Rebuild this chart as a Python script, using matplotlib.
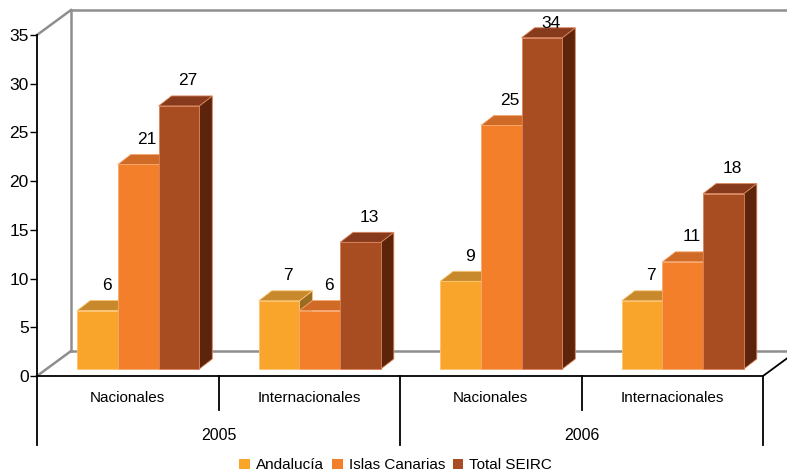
"""
Redraw the 3D-style clustered bar chart (Excel look) for SEIRC counts.

Oblique 3D is faked with flat polygons: each bar gets a front face,
a top face and a right side face, shifted by a fixed pixel depth.
"""

from __future__ import annotations

import matplotlib.pyplot as plt
from matplotlib.patches import Patch, Polygon

CATEGORIES = ["Nacionales", "Internacionales", "Nacionales", "Internacionales"]
YEARS = ["2005", "2006"]
SERIES = ["Andalucía", "Islas Canarias", "Total SEIRC"]

ANDALUCIA = [6, 7, 9, 7]
ISLAS_CANARIAS = [21, 6, 25, 11]
TOTAL_SEIRC = [27, 13, 34, 18]

Y_TICKS = [0, 5, 10, 15, 20, 25, 30, 35]

# front, top, side, edge
COLORS = [
    ("#F9A52B", "#C8892C", "#9C6B22", "#FBC36F"),
    ("#F37F2B", "#CF6B27", "#A35420", "#F7A870"),
    ("#A84D22", "#883B1C", "#5C250B", "#D9825A"),
]

FONT = "Liberation Sans"

W, H = 787, 472
AX_LEFT, AX_RIGHT = 37, 763
AX_TOP, AX_BOTTOM = 35, 376


def main() -> None:
    fig = plt.figure(figsize=(W / 100, H / 100), dpi=100)
    ax = fig.add_axes(
        [
            AX_LEFT / W,
            1 - AX_BOTTOM / H,
            (AX_RIGHT - AX_LEFT) / W,
            (AX_BOTTOM - AX_TOP) / H,
        ]
    )
    n_cat = len(CATEGORIES)
    y_max = Y_TICKS[-1]
    ax.set_xlim(0, n_cat)
    ax.set_ylim(0, y_max)

    # pixel -> data unit helpers
    px = n_cat / (AX_RIGHT - AX_LEFT)
    py = y_max / (AX_BOTTOM - AX_TOP)

    wall_dx, wall_dy = 34 * px, 25 * py
    bar_dx, bar_dy = 13 * px, 10 * py
    bar_off_x, bar_off_y = 10.5 * px, 7 * py
    bar_w = 40.7 * px

    for side in ["top", "right", "bottom", "left"]:
        ax.spines[side].set_visible(False)
    ax.set_xticks([])
    ax.set_yticks(Y_TICKS)
    ax.tick_params(axis="y", direction="out", length=5, width=1, pad=1)
    for label in ax.get_yticklabels():
        label.set_fontfamily(FONT)
        label.set_fontsize(12.5)

    gray = "#8E8E8E"
    line_kw = {"clip_on": False, "color": gray, "linewidth": 1.8, "zorder": 1}
    # back wall / floor
    ax.plot([0, wall_dx], [0, wall_dy], **line_kw)
    ax.plot([0, wall_dx], [y_max, y_max + wall_dy], **line_kw)
    ax.plot([wall_dx, wall_dx], [wall_dy, y_max + wall_dy], **line_kw)
    ax.plot([wall_dx, n_cat + wall_dx], [y_max + wall_dy] * 2, **line_kw)
    ax.plot([wall_dx, n_cat + wall_dx], [wall_dy] * 2, **line_kw)

    black_kw = {"clip_on": False, "color": "black", "linewidth": 1.3, "zorder": 2}
    ax.plot([n_cat, n_cat + wall_dx], [0, wall_dy], **black_kw)
    ax.plot([0, n_cat], [0, 0], **black_kw)

    # axis line and category separators, running down into the label area
    long_end = -(445 - AX_BOTTOM) * py
    short_end = -(410 - AX_BOTTOM) * py
    ax.plot([0, 0], [y_max, long_end], **black_kw)
    for i in range(1, n_cat + 1):
        end = long_end if i % 2 == 0 else short_end
        ax.plot([i, i], [0, end], **black_kw)

    for i, name in enumerate(CATEGORIES):
        ax.text(
            i + 0.5, -22 * py, name, ha="center", va="center",
            fontsize=11, family=FONT,
        )
    for k, year in enumerate(YEARS):
        ax.text(
            2 * k + 1, -60 * py, year, ha="center", va="center",
            fontsize=11.5, family=FONT,
        )

    values = [ANDALUCIA, ISLAS_CANARIAS, TOTAL_SEIRC]
    z = 3
    for i in range(n_cat):
        group_left = i + 0.5 - 1.5 * bar_w + bar_off_x
        for j, series in enumerate(values):
            v = series[i]
            front_c, top_c, side_c, edge_c = COLORS[j]
            x0 = group_left + j * bar_w
            x1 = x0 + bar_w
            y0 = bar_off_y
            y1 = y0 + v

            side = Polygon(
                [(x1, y0), (x1 + bar_dx, y0 + bar_dy),
                 (x1 + bar_dx, y1 + bar_dy), (x1, y1)],
                facecolor=side_c, edgecolor=edge_c, linewidth=0.6,
                clip_on=False, zorder=z,
            )
            top = Polygon(
                [(x0, y1), (x0 + bar_dx, y1 + bar_dy),
                 (x1 + bar_dx, y1 + bar_dy), (x1, y1)],
                facecolor=top_c, edgecolor=edge_c, linewidth=0.6,
                clip_on=False, zorder=z,
            )
            front = Polygon(
                [(x0, y0), (x1, y0), (x1, y1), (x0, y1)],
                facecolor=front_c, edgecolor=edge_c, linewidth=0.6,
                clip_on=False, zorder=z + 1,
            )
            ax.add_patch(side)
            ax.add_patch(top)
            ax.add_patch(front)
            z += 2

            # label just above the bar, kept inside the plot area
            label_y = min(y1 + 25 * py, y_max + 1.2)
            ax.text(
                (x0 + x1) / 2 + 9 * px, label_y, f"{v}",
                ha="center", va="center", fontsize=12.5, family=FONT,
                zorder=100,
            )

    handles = [Patch(facecolor=c[0], edgecolor="none") for c in COLORS]
    fig.legend(
        handles, SERIES, loc="lower center", bbox_to_anchor=(0.503, -0.03),
        ncol=3, frameon=False, handlelength=0.7, handleheight=0.7,
        handletextpad=0.4, columnspacing=0.5, prop={"family": FONT, "size": 11},
    )

    fig.savefig("out.png", dpi=100)
    plt.close("all")


if __name__ == "__main__":
    main()
